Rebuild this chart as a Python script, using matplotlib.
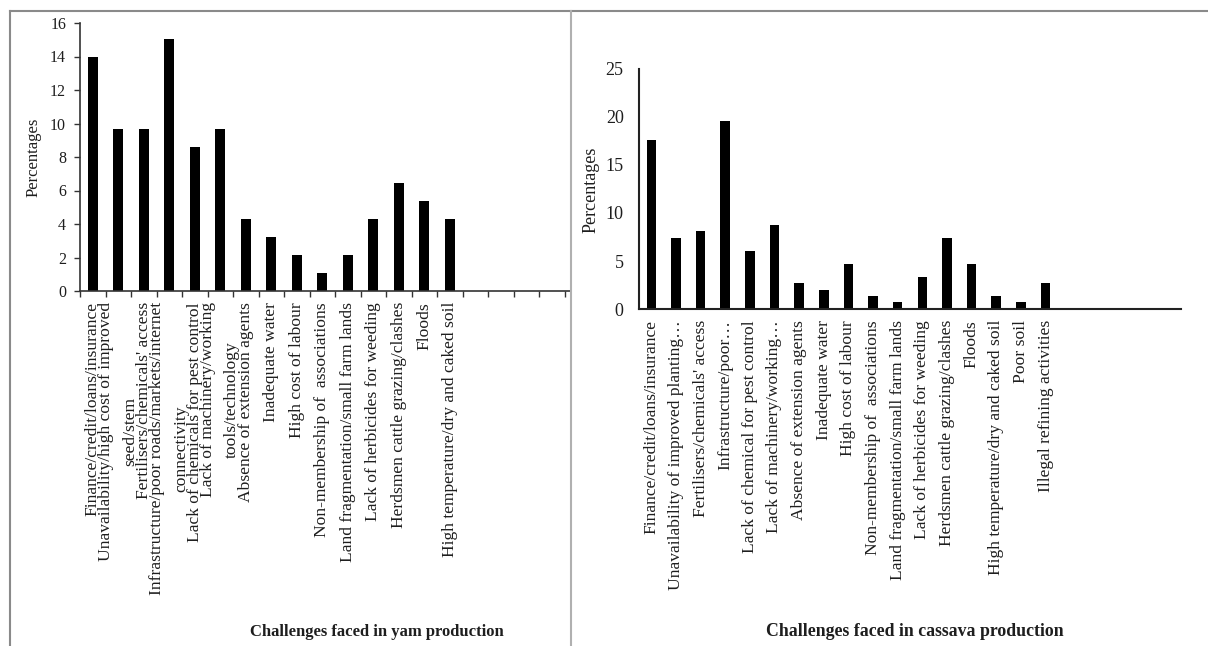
import matplotlib
matplotlib.use("Agg")
import matplotlib.pyplot as plt
from matplotlib.lines import Line2D
import numpy as np

plt.rcParams['font.family'] = ['Liberation Serif', 'DejaVu Serif']

yam_labels = [
    "Finance/credit/loans/insurance",
    "Unavailability/high cost of improved\nseed/stem",
    "Fertilisers/chemicals' access",
    "Infrastructure/poor roads/markets/internet\nconnectivity",
    "Lack of chemicals for pest control",
    "Lack of machinery/working\ntools/technology",
    "Absence of extension agents",
    "Inadequate water",
    "High cost of labour",
    "Non-membership of  associations",
    "Land fragmentation/small farm lands",
    "Lack of herbicides for weeding",
    "Herdsmen cattle grazing/clashes",
    "Floods",
    "High temperature/dry and caked soil",
]
yam_values = [13.98, 9.68, 9.68, 15.05, 8.60, 9.68, 4.30, 3.23, 2.15, 1.08, 2.15, 4.30, 6.45, 5.38, 4.30]

cassava_labels = [
    "Finance/credit/loans/insurance",
    "Unavailability of improved planting…",
    "Fertilisers/chemicals' access",
    "Infrastructure/poor…",
    "Lack of chemical for pest control",
    "Lack of machinery/working…",
    "Absence of extension agents",
    "Inadequate water",
    "High cost of labour",
    "Non-membership of  associations",
    "Land fragmentation/small farm lands",
    "Lack of herbicides for weeding",
    "Herdsmen cattle grazing/clashes",
    "Floods",
    "High temperature/dry and caked soil",
    "Poor soil",
    "Illegal refining activities",
]
cassava_values = [17.57, 7.43, 8.11, 19.59, 6.08, 8.78, 2.70, 2.03, 4.73, 1.35, 0.68, 3.38, 7.43, 4.73, 1.35, 0.68, 2.70]

yam_title = "Challenges faced in yam production"
cassava_title = "Challenges faced in cassava production"
ylabel = "Percentages"

W, H = 1208, 646
fig = plt.figure(figsize=(W / 100, H / 100), dpi=100)
fig.patch.set_facecolor('white')

def px_axes(x0, y_top, x1, y_bot):
    return fig.add_axes([x0 / W, 1 - y_bot / H, (x1 - x0) / W, (y_bot - y_top) / H])

text_color = '#1e1e1e'
cat_fs = 12.6

# ---------- Yam panel ----------
ax1 = px_axes(80, 23, 571, 291)
x1 = np.arange(len(yam_values))
ax1.bar(x1, yam_values, width=0.4, color='black')
ax1.set_xlim(-0.5, 18.75)
ax1.set_ylim(0, 16)
ax1.set_yticks(np.arange(0, 17, 2))
ax1.tick_params(axis='y', direction='out', length=4, width=1, colors='#333333',
                labelsize=11.5, labelcolor=text_color, pad=6)
ax1.set_xticks(np.arange(-0.5, 19, 1))
ax1.set_xticklabels([])
ax1.tick_params(axis='x', which='major', direction='out', length=4, width=1, colors='#333333')
ax1.set_xticks(x1, minor=True)
ax1.set_xticklabels(yam_labels, minor=True, rotation=90, va='top', ha='center',
                    multialignment='center', linespacing=1.65, fontsize=cat_fs, color=text_color)
ax1.tick_params(axis='x', which='minor', length=0, pad=8)
for s in ['top', 'right']:
    ax1.spines[s].set_visible(False)
for s in ['left', 'bottom']:
    ax1.spines[s].set_color('#333333')
    ax1.spines[s].set_linewidth(1.2)
ax1.set_ylabel(ylabel, fontsize=12, color=text_color)
ax1.yaxis.set_label_coords((42 - 80) / (571 - 80), (291 - 157) / (291 - 23))
fig.text(377 / W, 1 - 632 / H, yam_title, ha='center', va='center',
         fontsize=12, fontweight='bold', color=text_color)

# ---------- Cassava panel ----------
ax2 = px_axes(639, 69, 1181, 309)
x2 = np.arange(len(cassava_values))
ax2.bar(x2, cassava_values, width=0.39, color='black')
ax2.set_xlim(-0.5, 21.5)
ax2.set_ylim(0, 25)
ax2.set_yticks(np.arange(0, 26, 5))
ax2.tick_params(axis='y', length=0, labelsize=13, labelcolor=text_color, pad=11)
ax2.set_xticks(x2)
ax2.set_xticklabels(cassava_labels, rotation=90, va='top', ha='center',
                    fontsize=cat_fs, color=text_color)
ax2.tick_params(axis='x', length=0, pad=8)
for s in ['top', 'right']:
    ax2.spines[s].set_visible(False)
for s in ['left', 'bottom']:
    ax2.spines[s].set_color('#222222')
    ax2.spines[s].set_linewidth(1.5)
ax2.set_ylabel(ylabel, fontsize=13, color=text_color)
ax2.yaxis.set_label_coords((600 - 639) / (1181 - 639), (309 - 190) / (309 - 69))
fig.text(915 / W, 1 - 632 / H, cassava_title, ha='center', va='center',
         fontsize=12.8, fontweight='bold', color=text_color)

# ---------- frame lines ----------
frame_color = '#8a8a8a'
fig.add_artist(Line2D([10 / W, 10 / W], [0, 1 - 11 / H], color=frame_color, lw=1.5))
fig.add_artist(Line2D([10 / W, 1], [1 - 11 / H, 1 - 11 / H], color=frame_color, lw=1.5))
fig.add_artist(Line2D([571 / W, 571 / W], [0, 1 - 11 / H], color='#b0b0b0', lw=1.5))

fig.savefig('out.png', dpi=100, facecolor='white')
